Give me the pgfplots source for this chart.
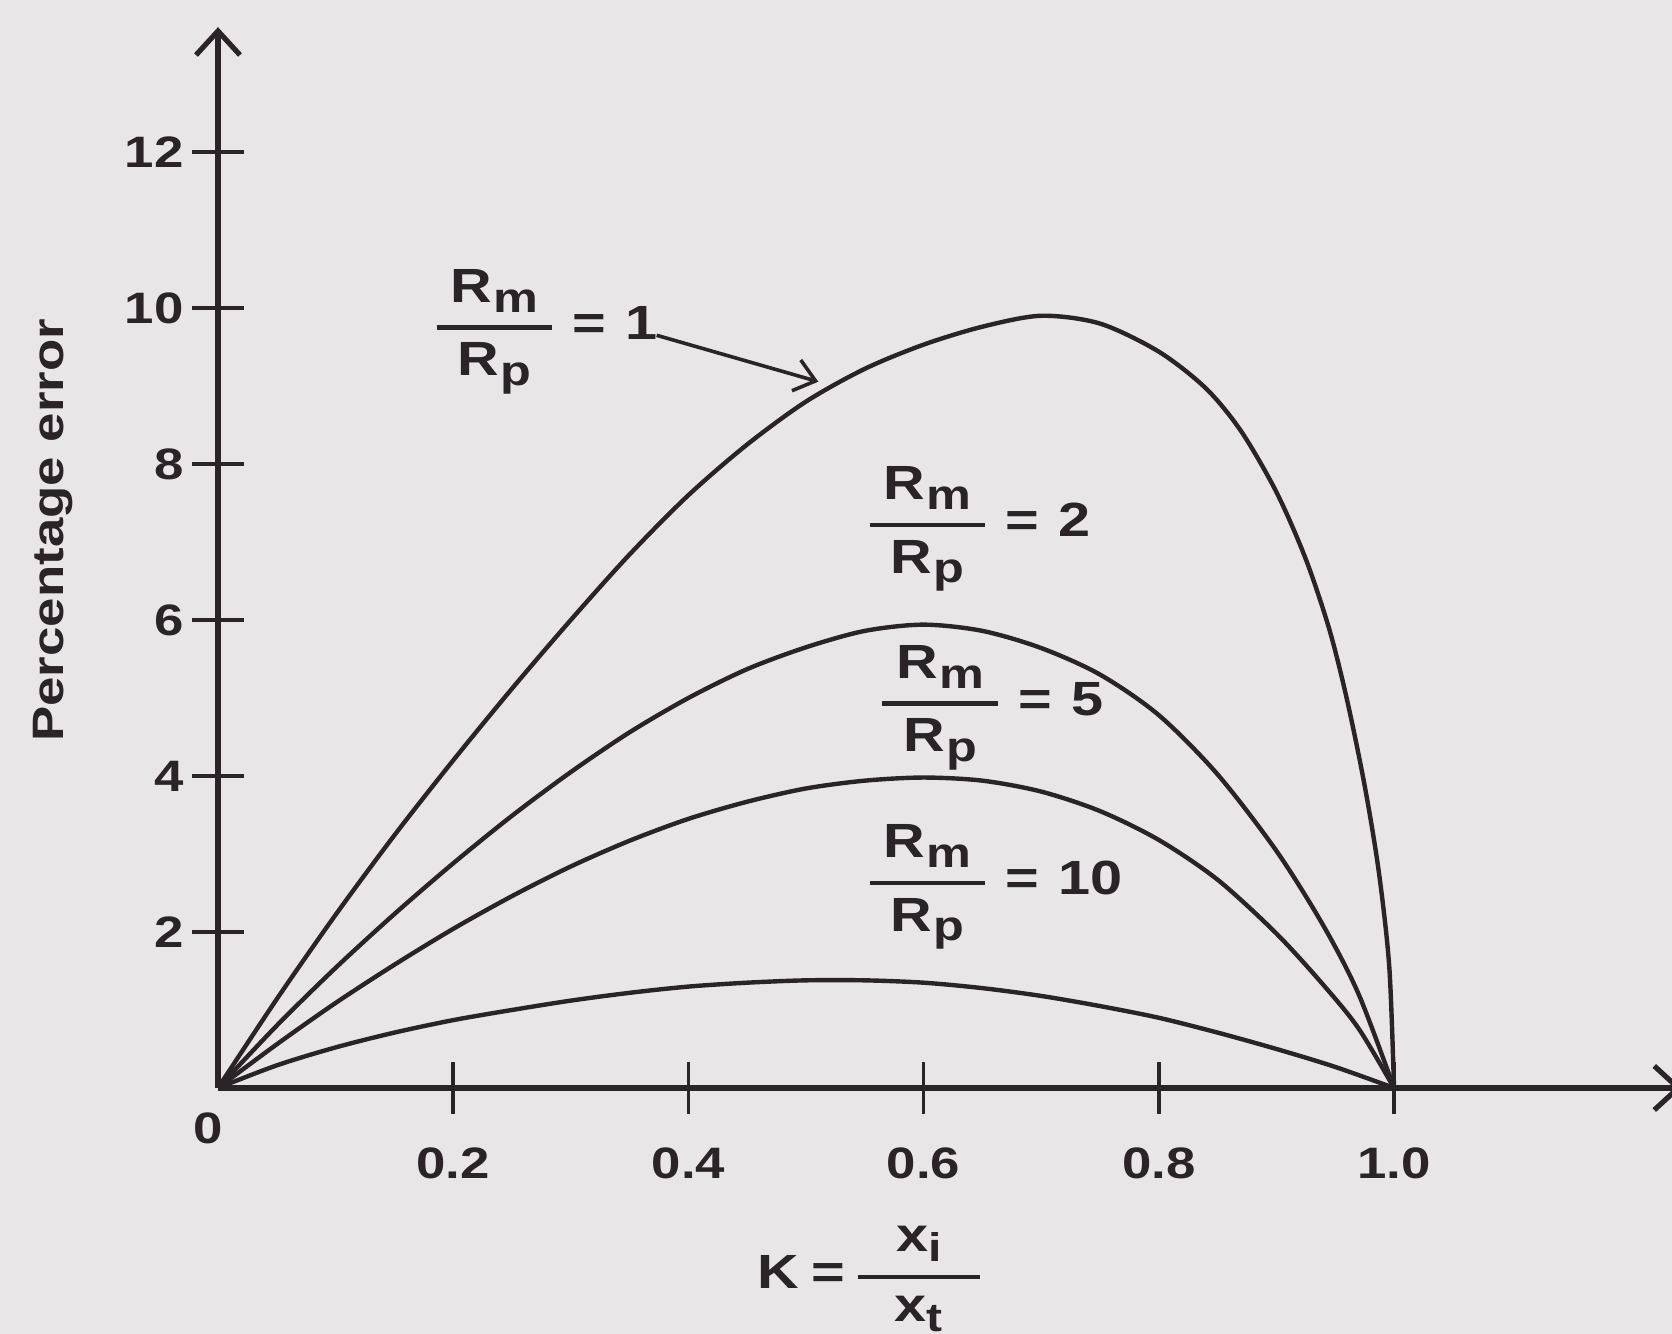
\documentclass[border=0pt]{standalone}
\usepackage{pgfplots}
\pgfplotsset{compat=1.18}
\usepackage{pgfplotstable}
\usepackage{amsmath}
\usepackage{fontspec}
\setmainfont{Liberation Sans}[FakeStretch=1.2]
\usetikzlibrary{arrows.meta}

\definecolor{paper}{RGB}{232,230,231}
\definecolor{ink}{RGB}{42,36,40}

% Percentage error against K = x_i/x_t for four meter-to-pot resistance ratios
\pgfplotstableread{
K      e
0      0
0.05   1.14
0.10   2.22
0.15   3.24
0.20   4.20
0.25   5.12
0.30   6.00
0.35   6.84
0.40   7.60
0.45   8.25
0.50   8.80
0.55   9.22
0.60   9.53
0.65   9.76
0.70   9.90
0.75   9.80
0.80   9.44
0.84   8.97
0.87   8.42
0.90   7.64
0.925  6.78
0.945  5.88
0.96   4.98
0.975  3.88
0.987  2.78
0.996  1.55
1.0    0
}\ratioA

\pgfplotstableread{
K      e
0      0
0.05   0.80
0.10   1.54
0.15   2.23
0.20   2.88
0.25   3.49
0.30   4.05
0.35   4.56
0.40   5.00
0.45   5.37
0.50   5.65
0.55   5.86
0.60   5.94
0.65   5.86
0.70   5.64
0.75   5.30
0.80   4.78
0.85   4.02
0.90   3.04
0.94   2.08
0.97   1.20
1.0    0
}\ratioB

\pgfplotstableread{
K      e
0      0
0.05   0.56
0.10   1.09
0.15   1.58
0.20   2.04
0.25   2.46
0.30   2.84
0.35   3.17
0.40   3.45
0.45   3.67
0.50   3.84
0.55   3.94
0.60   3.98
0.65   3.94
0.70   3.80
0.75   3.55
0.80   3.18
0.85   2.67
0.90   1.98
0.94   1.32
0.97   0.76
1.0    0
}\ratioC

\pgfplotstableread{
K      e
0      0
0.05   0.29
0.10   0.52
0.15   0.71
0.20   0.87
0.25   1.00
0.30   1.12
0.35   1.22
0.40   1.30
0.45   1.35
0.50   1.38
0.55   1.38
0.60   1.35
0.65   1.28
0.70   1.18
0.75   1.05
0.80   0.90
0.85   0.71
0.90   0.50
0.95   0.27
1.0    0
}\ratioD

% R with a lowered subscript letter
\newcommand{\RR}[1]{\mbox{R\kern0.3pt\raisebox{-2.4pt}{\fontsize{10.5}{10}\selectfont #1}}}
\newcommand{\ratio}[1]{{\nulldelimiterspace=0pt$\genfrac{}{}{1.1pt}{0}{\kern3.5pt\RR{m}\kern3.5pt}{\RR{p}}$}\kern5pt=\kern5pt#1}
\newcommand{\xs}[1]{\mbox{x\raisebox{-2.4pt}{\fontsize{10}{10}\selectfont #1}}}

\begin{document}
\begin{tikzpicture}
\path[use as bounding box] (-54.5pt,-61.5pt) rectangle (363.5pt,272pt);
\fill[paper] (-54.5pt,-61.5pt) rectangle (363.5pt,272pt);
\begin{axis}[
  at={(0pt,0pt)}, anchor=south west,
  x=294pt, y=19.5pt,
  xmin=0, xmax=1.245, ymin=0, ymax=13.6,
  axis x line=bottom, axis y line=left,
  axis line style={ink, line width=1.7pt, -{Straight Barb[length=6pt,width=11pt,line width=1.3pt]}},
  clip=false,
  xtick={0.2,0.4,0.6,0.8,1.0},
  xticklabels={0.2,0.4,0.6,0.8,1.0},
  ytick={2,4,6,8,10,12},
  yticklabels={2,4,6,8,10,12},
  tick align=center,
  major tick length=13pt,
  tick style={ink, line width=0.85pt},
  ticklabel style={font=\fontsize{11}{13}\selectfont\bfseries, text=ink},
  xticklabel style={yshift=-4.8pt},
  yticklabel style={xshift=1.4pt},
]
\addplot[ink, line width=1.1pt, smooth] table[x=K, y=e] {\ratioA};
\addplot[ink, line width=1.1pt, smooth] table[x=K, y=e] {\ratioB};
\addplot[ink, line width=1.1pt, smooth] table[x=K, y=e] {\ratioC};
\addplot[ink, line width=1.1pt, smooth] table[x=K, y=e] {\ratioD};

\node[text=ink, font=\fontsize{11}{13}\selectfont\bfseries] at (axis cs:-0.0085,-0.52) {0};
\node[text=ink, font=\fontsize{11}{13}\selectfont\bfseries, rotate=90] at (axis cs:-0.14,7.15) {Percentage error};

\begin{scope}[every node/.style={text=ink, font=\fontsize{12}{14}\selectfont\bfseries, inner sep=0pt, outer sep=0pt, anchor=base west, yshift=-3pt}]
\node at (axis cs:0.186,9.75) {\ratio{1}};
\node at (axis cs:0.554,7.22) {\ratio{2}};
\node at (axis cs:0.565,4.93) {\ratio{5}};
\node at (axis cs:0.554,2.63) {\ratio{10}};
\node at (axis cs:0.459,-2.42) {K\kern3pt=\kern3.3pt{\nulldelimiterspace=0pt$\genfrac{}{}{1.1pt}{0}{\kern9.5pt\xs{i}\kern9.5pt}{\xs{t}}$}};
\end{scope}

\draw[ink, line width=0.9pt, -{Straight Barb[length=5pt,width=8pt]}] (axis cs:0.373,9.65) -- (axis cs:0.5105,9.055);
\end{axis}
\end{tikzpicture}
\end{document}
